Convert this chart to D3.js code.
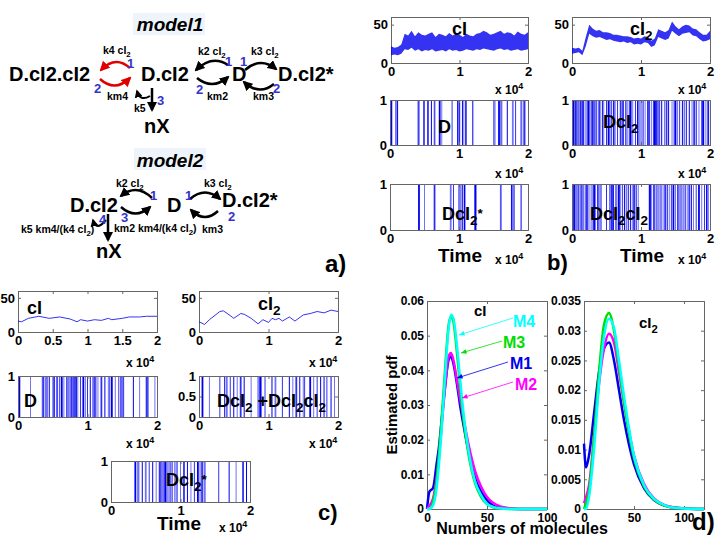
<!DOCTYPE html>
<html><head><meta charset="utf-8">
<script src="https://cdn.jsdelivr.net/npm/d3@7"></script>
<style>body{margin:0;background:#fff}text{font-family:"Liberation Sans",Arial,sans-serif;font-weight:bold}</style>
</head><body><svg id="s" width="720" height="540"></svg>
<script>
// ---------- DATA ----------
const bTime=[0,0.05,0.1,0.15,0.2,0.25,0.3,0.35,0.4,0.45,0.5,0.55,0.6,0.65,0.7,0.75,0.8,0.85,0.9,0.95,1.0,1.05,1.1,1.15,1.2,1.25,1.3,1.35,1.4,1.45,1.5,1.55,1.6,1.65,1.7,1.75,1.8,1.85,1.9,1.95,2.0];
const bCILo=[10,11,10,12,18,17,20,16,18,15,17,16,18,15,16,17,15,18,16,17,15,16,18,17,16,18,17,19,18,17,16,18,19,17,18,16,17,18,16,17,18];
const bCIHi=[22,20,21,24,38,36,42,35,40,37,36,38,40,34,38,37,35,39,36,38,37,34,38,36,35,38,39,42,40,37,38,40,42,38,40,39,36,41,38,37,40];
const bCI2Lo=[12,13,14,10,22,38,35,33,34,32,30,31,29,28,27,28,26,27,24,25,24,27,26,21,23,34,32,30,32,42,38,35,38,39,40,36,35,31,28,29,31];
const bCI2Hi=[20,19,20,16,34,50,45,42,43,40,40,39,37,37,36,35,35,34,32,33,32,35,34,29,32,44,42,40,43,54,48,44,48,50,49,45,44,40,37,37,42];
const bD=[0.02,0.08,0.1,0.11,0.41,0.42,0.49,0.5,0.55,0.6,0.64,0.65,0.72,0.75,0.9,0.98,1.0,1.01,1.05,1.07,1.1,1.2,1.5,1.52,1.58,1.6,1.62,1.7,1.78,1.82,1.9,1.93,1.95];
const bDs=[0.42,0.5,0.64,0.65,0.88,0.92,1.0,1.02,1.05,1.08,1.09,1.23,1.24,1.6,1.61,1.76,1.78,1.8,1.9];
const bDc=[0.02,0.04,0.05,0.06,0.08,0.1,0.12,0.13,0.15,0.17,0.2,0.22,0.24,0.26,0.28,0.3,0.31,0.33,0.35,0.38,0.4,0.44,0.46,0.5,0.53,0.55,0.57,0.6,0.62,0.66,0.7,0.72,0.74,0.78,0.8,0.83,0.85,0.88,0.92,0.95,0.97,1.0,1.03,1.06,1.1,1.12,1.15,1.18,1.2,1.21,1.22,1.23,1.25,1.27,1.3,1.34,1.37,1.4,1.45,1.48,1.5,1.53,1.56,1.6,1.63,1.66,1.7,1.74,1.77,1.8,1.84,1.88,1.9,1.93,1.96,1.98];
const bDcc=[0.03,0.05,0.07,0.09,0.12,0.14,0.16,0.19,0.21,0.23,0.26,0.29,0.32,0.34,0.37,0.39,0.42,0.5,0.55,0.57,0.58,0.6,0.63,0.65,0.68,0.7,0.73,0.76,0.79,0.82,0.85,0.88,0.9,0.93,0.96,1.12,1.13,1.15,1.18,1.2,1.23,1.26,1.29,1.32,1.35,1.38,1.41,1.44,1.47,1.5,1.53,1.55,1.58,1.61,1.64,1.67,1.7,1.73,1.76,1.8,1.84,1.88,1.92,1.95,1.97];
const cCIt=[0,0.05,0.15,0.3,0.45,0.6,0.75,0.85,0.9,1.0,1.1,1.2,1.3,1.35,1.5,1.6,1.75,1.85,2.0];
const cCIv=[16,15,20,23,20,22,19,15,18,16,18,17,20,18,20,22,22,23,23];
const cCI2t=[0,0.08,0.15,0.3,0.35,0.45,0.5,0.6,0.65,0.75,0.85,0.92,1.0,1.05,1.1,1.15,1.2,1.3,1.38,1.5,1.6,1.7,1.8,1.9,2.0];
const cCI2v=[15,11,18,30,31,24,20,27,26,20,12,18,14,20,18,20,16,22,16,25,27,30,28,32,30];
const cD=[0.02,0.18,0.35,0.37,0.4,0.42,0.45,0.5,0.52,0.56,0.57,0.6,0.63,0.66,0.7,0.72,0.75,0.77,0.79,0.8,0.82,0.84,0.86,0.9,0.94,0.97,1.0,1.04,1.08,1.1,1.12,1.15,1.2,1.25,1.3,1.32,1.35,1.4,1.45,1.48,1.5,1.52,1.66,1.75,1.85,1.87,1.97];
const cDd=[0.05,0.15,0.3,0.37,0.4,0.45,0.5,0.55,0.6,0.65,0.75,0.85,0.88,0.9,0.95,1.05,1.1,1.2,1.3,1.35,1.4,1.45,1.5,1.52,1.6,1.65,1.7,1.75,1.8,1.84,1.9,1.95];
const cDs=[0.35,0.38,0.4,0.45,0.5,0.55,0.6,0.65,0.7,0.72,0.74,0.76,0.78,0.8,0.82,0.85,0.88,0.92,0.95,1.0,1.05,1.1,1.15,1.2,1.25,1.28,1.3,1.32,1.35,1.55,1.7,1.8,1.9,1.95];
const dX1=[0,2,5,8,10,12,15,18,20,22,25,28,30,35,40,45,50,55,60,70,80,100];
const dM1a=[0,0.005,0.006,0.013,0.018,0.025,0.035,0.043,0.044,0.042,0.036,0.029,0.025,0.016,0.009,0.005,0.0025,0.001,0.0005,0.0001,0,0];
const dM2a=[0,0.001,0.003,0.009,0.015,0.023,0.035,0.044,0.045,0.043,0.037,0.031,0.027,0.018,0.011,0.0065,0.0035,0.0018,0.0009,0.0002,0,0];
const dM3a=[0,0,0.002,0.008,0.016,0.025,0.040,0.053,0.0555,0.054,0.045,0.034,0.027,0.015,0.0075,0.0035,0.0014,0.0005,0.0002,0,0,0];
const dM4a=[0,0,0.001,0.006,0.013,0.022,0.038,0.052,0.056,0.055,0.047,0.036,0.029,0.016,0.008,0.004,0.0015,0.0006,0.0002,0,0,0];
const dX2=[0,2,5,10,15,20,25,30,35,40,50,60,70,80,90,100,120];
const dM1b=[0.011,0.007,0.009,0.016,0.023,0.027,0.028,0.025,0.020,0.015,0.0075,0.0035,0.0015,0.0006,0.0002,0.0001,0];
const dM2b=[0.001,0.002,0.004,0.012,0.021,0.027,0.0295,0.028,0.023,0.018,0.009,0.0042,0.0018,0.0007,0.0003,0.0001,0];
const dM3b=[0,0.001,0.003,0.012,0.023,0.031,0.033,0.030,0.024,0.018,0.0085,0.0038,0.0016,0.0006,0.0002,0.0001,0];
const dM4b=[0,0,0.002,0.010,0.021,0.029,0.032,0.0305,0.025,0.019,0.009,0.004,0.0017,0.0007,0.0002,0.0001,0];

// ---------- DRAW ----------
const svg=d3.select("#s");
const BLUE="#0000ee";
function rich(g,x,y,str,size,opt={}){
  const t=g.append("text").attr("x",x).attr("y",y).attr("font-size",size).attr("fill",opt.fill||"#000");
  if(opt.anchor)t.attr("text-anchor",opt.anchor);
  if(opt.style)t.attr("font-style",opt.style);
  const parts=str.split(/([_^].)/);
  let shift=0;
  parts.forEach(p=>{ if(!p)return;
    if((p[0]==="_"||p[0]==="^")&&p.length===2){const dy=p[0]==="_"?size*0.3:-size*0.4;t.append("tspan").attr("dy",dy).attr("font-size",size*0.75).text(p[1]);shift=-dy;}
    else{const ts=t.append("tspan").text(p);if(shift){ts.attr("dy",shift);shift=0;}}
  });
  return t;
}
function axes(x0,x1,y0,y1,xd,yd,xt,yt,xfmt,yfmt,fs){
  const x=d3.scaleLinear().domain(xd).range([x0,x1]);
  const y=d3.scaleLinear().domain(yd).range([y1,y0]);
  const g=svg.append("g");
  const ax=d3.axisBottom(x).tickValues(xt).tickSize(-3).tickPadding(4).tickFormat(xfmt||(d=>d));
  const ay=d3.axisLeft(y).tickValues(yt).tickSize(-3).tickPadding(3).tickFormat(yfmt||(d=>d));
  const gx=g.append("g").attr("transform",`translate(0,${y1})`).call(ax);
  const gy=g.append("g").attr("transform",`translate(${x0},0)`).call(ay);
  const gx2=g.append("g").attr("transform",`translate(0,${y0})`).call(d3.axisTop(x).tickValues(xt).tickSize(-3).tickFormat(""));
  const gy2=g.append("g").attr("transform",`translate(${x1},0)`).call(d3.axisRight(y).tickValues(yt).tickSize(-3).tickFormat(""));
  [gx,gy,gx2,gy2].forEach(a=>{a.selectAll("path,line").attr("stroke","#666");a.selectAll("text").attr("font-size",fs||13).attr("font-family","Liberation Sans").attr("font-weight","bold").attr("fill","#000");});
  return {x,y,g};
}
function events(A,arr){
  A.g.insert("g",":first-child").selectAll("line").data(arr).join("line")
   .attr("x1",d=>A.x(d)).attr("x2",d=>A.x(d)).attr("y1",A.y(0)).attr("y2",A.y(1))
   .attr("stroke",BLUE).attr("stroke-width",(d,i)=>i%4===0?1.8:1).attr("opacity",(d,i)=>[1,0.55,0.8][i%3]);
}
function x104(x,y){rich(svg,x,y,"x 10^4",12);}

// panel b
const t012=[0,1,2];
let A=axes(391,528,17,63,[0,2],[0,60],t012,[0,50]);
A.g.append("path").datum(bTime).attr("fill",BLUE).attr("opacity",0.8)
 .attr("d",d3.area().x(t=>A.x(t)).y0((t,i)=>A.y(bCILo[i])).y1((t,i)=>A.y(bCIHi[i])));
rich(svg,452,35,"cI",18);
A=axes(572,710,17,63,[0,2],[0,60],t012,[0,50]);
A.g.append("path").datum(bTime).attr("fill",BLUE).attr("opacity",0.8)
 .attr("d",d3.area().x(t=>A.x(t)).y0((t,i)=>A.y(bCI2Lo[i])).y1((t,i)=>A.y(bCI2Hi[i])));
rich(svg,630,35,"cI_2",18);
x104(495,94);x104(678,94);
A=axes(390,528,100,145,[0,2],[0,1],t012,[0,1]);events(A,bD);rich(svg,438,133,"D",18);
A=axes(572,710,100,145,[0,2],[0,1],t012,[0,1]);events(A,bDc);rich(svg,603,128,"DcI_2",18);
x104(495,178);x104(678,178);
A=axes(390,528,184,230,[0,2],[0,1],t012,[0,1]);events(A,bDs);rich(svg,442,220,"DcI_2^*",18);
A=axes(572,710,184,230,[0,2],[0,1],t012,[0,1]);events(A,bDcc);rich(svg,590,220,"DcI_2cI_2",18);
x104(495,264);x104(678,264);
rich(svg,438,262,"Time",19);rich(svg,620,262,"Time",19);
rich(svg,547,270,"b)",22);

// panel c
A=axes(18,157,291,332,[0,2],[0,60],[0,0.5,1,1.5,2],[0,50]);
A.g.append("path").datum(cCIt).attr("fill","none").attr("stroke",BLUE).attr("stroke-width",0.8)
 .attr("d",d3.line().x(t=>A.x(t)).y((t,i)=>A.y(cCIv[i])));
rich(svg,27,314,"cI",18);
A=axes(199,338,291,332,[0,2],[0,60],t012,[0,50]);
A.g.append("path").datum(cCI2t).attr("fill","none").attr("stroke",BLUE).attr("stroke-width",0.8)
 .attr("d",d3.line().x(t=>A.x(t)).y((t,i)=>A.y(cCI2v[i])));
rich(svg,258,310,"cI_2",18);
x104(126,367);x104(309,367);
A=axes(18,157,376,417,[0,2],[0,1],t012,[0,1]);events(A,cD);rich(svg,24,407,"D",18);
A=axes(199,338,376,417,[0,2],[0,1],t012,[0,0.5,1]);events(A,cDd);rich(svg,217,407,"DcI_2 +DcI_2cI_2",18);
x104(126,448);x104(309,448);
A=axes(111,250,461,502,[0,2],[0,1],t012,[0,1]);events(A,cDs);rich(svg,166,486,"DcI_2^*",18);
x104(219,532);rich(svg,157,530,"Time",19);rich(svg,318,520,"c)",22);

// panel d
const COL={M1:"#0000ee",M2:"#ff00ff",M3:"#00dd00",M4:"#00ffff"};
A=axes(427,547,301,509,[0,100],[0,0.06],[0,50,100],[0,0.01,0.02,0.03,0.04,0.05,0.06],null,d=>d===0?"0":d3.format(".2f")(d),12);
[["M1",dM1a],["M2",dM2a],["M3",dM3a],["M4",dM4a]].forEach(([k,v])=>{
 A.g.append("path").datum(dX1).attr("fill","none").attr("stroke",COL[k]).attr("stroke-width",2.5)
  .attr("d",d3.line().x(x=>A.x(x)).y((x,i)=>A.y(v[i])).curve(d3.curveMonotoneX));});
rich(svg,474,316,"cI",15);
[["M4",513,327,[513,318],[459,335]],["M3",503,348,[502,341],[461,353]],["M1",510,369,[508,362],[457,378]],["M2",515,390,[513,382],[462,398]]].forEach(([k,tx,ty,p0,p1])=>{
 svg.append("line").attr("x1",p0[0]).attr("y1",p0[1]).attr("x2",p1[0]).attr("y2",p1[1]).attr("stroke",COL[k]).attr("stroke-width",0.8);
 const ang=Math.atan2(p0[1]-p1[1],p0[0]-p1[0]);
 svg.append("path").attr("d",`M${p1[0]},${p1[1]}L${p1[0]+6*Math.cos(ang-0.4)},${p1[1]+6*Math.sin(ang-0.4)}L${p1[0]+6*Math.cos(ang+0.4)},${p1[1]+6*Math.sin(ang+0.4)}Z`).attr("fill",COL[k]);
 rich(svg,tx,ty,k,16,{fill:COL[k]});});
A=axes(584,704,301,509,[0,120],[0,0.035],[0,50,100],[0,0.005,0.01,0.015,0.02,0.025,0.03,0.035],null,d=>d===0?"0":String(+d.toFixed(3)),12);
[["M1",dM1b],["M2",dM2b],["M3",dM3b],["M4",dM4b]].forEach(([k,v])=>{
 A.g.append("path").datum(dX2).attr("fill","none").attr("stroke",COL[k]).attr("stroke-width",2.5)
  .attr("d",d3.line().x(x=>A.x(x)).y((x,i)=>A.y(v[i])).curve(d3.curveMonotoneX));});
rich(svg,639,328,"cI_2",15);
svg.append("rect").attr("x",386).attr("y",350).attr("width",12).attr("height",100).attr("fill","#fff");
svg.append("text").attr("transform","translate(397,405) rotate(-90)").attr("text-anchor","middle").attr("font-size",15).text("Estimated pdf");
rich(svg,522,534,"Numbers of molecules",16,{anchor:"middle"});
rich(svg,692,530,"d)",24);

// panel a
const a=svg.append("g");
const defs=svg.append("defs");
["#000","#e00000"].forEach((c,i)=>defs.append("marker").attr("id","ar"+i).attr("viewBox","0 0 10 10").attr("refX",8).attr("refY",5)
 .attr("markerWidth",4).attr("markerHeight",4).attr("orient","auto").append("path").attr("d","M0,0L10,5L0,10Z").attr("fill",c));
function arc(x1,y1,x2,y2,bend,c){
 const mx=(x1+x2)/2,my=(y1+y2)/2+bend;
 a.append("path").attr("d",`M${x1},${y1}Q${mx},${my} ${x2},${y2}`).attr("fill","none").attr("stroke",c||"#000").attr("stroke-width",2.5).attr("marker-end",`url(#ar${c?1:0})`);
}
[[133,13],[134,148]].forEach(([x,y0])=>{a.append("rect").attr("x",x).attr("y",y0).attr("width",72).attr("height",22).attr("fill","#eef4fb");});
rich(a,170,31,"model1",19,{anchor:"middle",style:"italic"});
rich(a,170,167,"model2",19,{anchor:"middle",style:"italic"});
rich(a,9,81,"D.cI2.cI2",20);rich(a,141,81,"D.cI2",20);rich(a,232,81,"D",20);rich(a,278,81,"D.cI2*",20);
rich(a,144,133,"nX",20);
arc(130,68,101,70,-14,"#e00000");arc(100,79,130,78,14,"#e00000");
arc(228,65,196,70,-13);arc(197,78,228,77,13);
arc(245,70,276,69,-13);arc(274,84,244,82,13);
a.append("path").attr("d","M152,88L152,110").attr("stroke","#000").attr("stroke-width",2.5).attr("marker-end","url(#ar0)");
a.append("path").attr("d","M150,96Q140,102 137,91").attr("fill","none").attr("stroke","#000").attr("stroke-width",2).attr("marker-end","url(#ar0)");
const sm=10.5;
rich(a,103,54,"k4 cI_2",sm);rich(a,198,55,"k2 cI_2",sm);rich(a,251,55,"k3 cI_2",sm);
rich(a,107,100,"km4",sm);rich(a,207,100,"km2",sm);rich(a,253,100,"km3",sm);rich(a,134,112,"k5",sm);
[[127,68,"1"],[94,93,"2"],[157,105,"3"],[225,66,"1"],[196,94,"2"],[240,66,"1"],[273,93,"2"]].forEach(([x,y,s])=>rich(a,x,y,s,13,{fill:"#3333cc"}));
rich(a,70,212,"D.cI2",20);rich(a,167,212,"D",20);rich(a,222,207,"D.cI2*",20);rich(a,96,258,"nX",20);
arc(152,198,121,196,-14);arc(121,207,150,207,13);
arc(190,199,220,199,-13);arc(218,211,191,210,13);
a.append("path").attr("d","M108,214L108,240").attr("stroke","#000").attr("stroke-width",2.5).attr("marker-end","url(#ar0)");
a.append("path").attr("d","M106,220Q96,232 93,220").attr("fill","none").attr("stroke","#000").attr("stroke-width",2).attr("marker-end","url(#ar0)");
rich(a,116,187,"k2 cI_2",sm);rich(a,204,187,"k3 cI_2",sm);rich(a,114,232,"km2 km4/(k4 cI_2)",sm);rich(a,202,233,"km3",sm);rich(a,21,233,"k5 km4/(k4 cI_2)",sm);
[[150,200,"1"],[121,222,"3"],[185,200,"1"],[228,221,"2"],[99,224,"4"]].forEach(([x,y,s])=>rich(a,x,y,s,13,{fill:"#3333cc"}));
rich(a,325,272,"a)",24);
</script></body></html>
